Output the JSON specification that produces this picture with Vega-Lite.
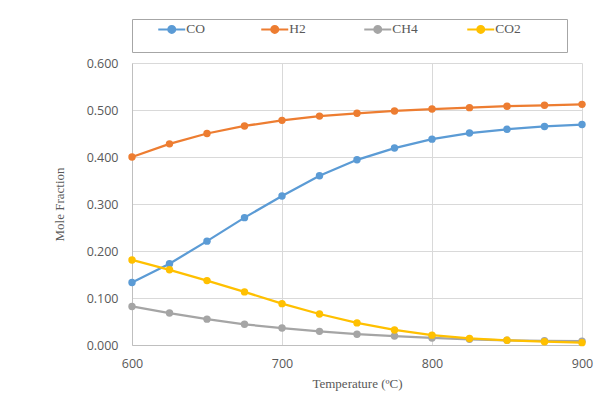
{
  "$schema": "https://vega.github.io/schema/vega-lite/v6.json",
  "width": 450,
  "height": 282,
  "autosize": {"type": "none"},
  "padding": {"left": 132, "top": 63, "right": 33, "bottom": 70},
  "background": "white",
  "config": {
    "view": {"stroke": null},
    "axis": {
      "labelFont": "Open Sans",
      "labelFontSize": 12.5,
      "labelColor": "#595959",
      "titleFont": "Liberation Serif",
      "titleFontSize": 13,
      "titleFontWeight": "normal",
      "titleColor": "#595959",
      "gridColor": "#d9d9d9",
      "gridWidth": 1,
      "domainColor": "#bfbfbf",
      "ticks": false,
      "labelFlush": false
    }
  },
  "data": {
    "values": [
      {"T": 600, "s": "CO", "v": 0.133}, {"T": 625, "s": "CO", "v": 0.173}, {"T": 650, "s": "CO", "v": 0.221}, {"T": 675, "s": "CO", "v": 0.271}, {"T": 700, "s": "CO", "v": 0.317}, {"T": 725, "s": "CO", "v": 0.360}, {"T": 750, "s": "CO", "v": 0.394}, {"T": 775, "s": "CO", "v": 0.419}, {"T": 800, "s": "CO", "v": 0.438}, {"T": 825, "s": "CO", "v": 0.451}, {"T": 850, "s": "CO", "v": 0.459}, {"T": 875, "s": "CO", "v": 0.465}, {"T": 900, "s": "CO", "v": 0.469},
      {"T": 600, "s": "H2", "v": 0.400}, {"T": 625, "s": "H2", "v": 0.428}, {"T": 650, "s": "H2", "v": 0.450}, {"T": 675, "s": "H2", "v": 0.466}, {"T": 700, "s": "H2", "v": 0.478}, {"T": 725, "s": "H2", "v": 0.487}, {"T": 750, "s": "H2", "v": 0.493}, {"T": 775, "s": "H2", "v": 0.498}, {"T": 800, "s": "H2", "v": 0.502}, {"T": 825, "s": "H2", "v": 0.505}, {"T": 850, "s": "H2", "v": 0.508}, {"T": 875, "s": "H2", "v": 0.510}, {"T": 900, "s": "H2", "v": 0.512},
      {"T": 600, "s": "CH4", "v": 0.082}, {"T": 625, "s": "CH4", "v": 0.068}, {"T": 650, "s": "CH4", "v": 0.055}, {"T": 675, "s": "CH4", "v": 0.044}, {"T": 700, "s": "CH4", "v": 0.036}, {"T": 725, "s": "CH4", "v": 0.029}, {"T": 750, "s": "CH4", "v": 0.023}, {"T": 775, "s": "CH4", "v": 0.019}, {"T": 800, "s": "CH4", "v": 0.015}, {"T": 825, "s": "CH4", "v": 0.012}, {"T": 850, "s": "CH4", "v": 0.010}, {"T": 875, "s": "CH4", "v": 0.009}, {"T": 900, "s": "CH4", "v": 0.008},
      {"T": 600, "s": "CO2", "v": 0.181}, {"T": 625, "s": "CO2", "v": 0.160}, {"T": 650, "s": "CO2", "v": 0.137}, {"T": 675, "s": "CO2", "v": 0.113}, {"T": 700, "s": "CO2", "v": 0.088}, {"T": 725, "s": "CO2", "v": 0.066}, {"T": 750, "s": "CO2", "v": 0.047}, {"T": 775, "s": "CO2", "v": 0.032}, {"T": 800, "s": "CO2", "v": 0.021}, {"T": 825, "s": "CO2", "v": 0.014}, {"T": 850, "s": "CO2", "v": 0.010}, {"T": 875, "s": "CO2", "v": 0.007}, {"T": 900, "s": "CO2", "v": 0.005}
    ]
  },
  "mark": {"type": "line", "strokeWidth": 2.25, "point": {"filled": true, "size": 55, "opacity": 1}},
  "encoding": {
    "x": {
      "field": "T", "type": "quantitative",
      "scale": {"domain": [600, 900], "nice": false, "zero": false},
      "axis": {"values": [600, 700, 800, 900], "format": "d", "title": "Temperature (ºC)", "labelPadding": 12, "titlePadding": 8, "grid": true}
    },
    "y": {
      "field": "v", "type": "quantitative",
      "scale": {"domain": [0, 0.6], "nice": false},
      "axis": {"values": [0, 0.1, 0.2, 0.3, 0.4, 0.5, 0.6], "format": ".3f", "title": "Mole Fraction", "labelPadding": 14, "titlePadding": 20, "grid": true}
    },
    "color": {
      "field": "s", "type": "nominal",
      "scale": {"domain": ["CO", "H2", "CH4", "CO2"], "range": ["#5b9bd5", "#ed7d31", "#a5a5a5", "#ffc000"]},
      "legend": {
        "title": " ",
        "titleOrient": "left",
        "titlePadding": 24,
        "titleFontSize": 13,
        "orient": "none",
        "legendX": 0,
        "legendY": -44,
        "direction": "horizontal",
        "columns": 4,
        "gridAlign": "all",
        "columnPadding": 1,
        "padding": 2,
        "strokeColor": "#a6a6a6",
        "cornerRadius": 0,
        "labelFont": "Liberation Serif",
        "labelFontSize": 13.5,
        "labelColor": "#595959",
        "labelOffset": 6.5,
        "symbolOffset": 5.75,
        "symbolType": "M11.85,2.4M-2,0H2M-0.52,0A0.52,0.52 0 1,0 0.52,0A0.52,0.52 0 1,0 -0.52,0Z",
        "symbolSize": 182,
        "symbolStrokeWidth": 2,
        "symbolOpacity": 1,
        "encode": {"symbols": {"update": {"fill": {"scale": "color", "field": "value"}, "stroke": {"scale": "color", "field": "value"}}}}
      }
    }
  }
}
